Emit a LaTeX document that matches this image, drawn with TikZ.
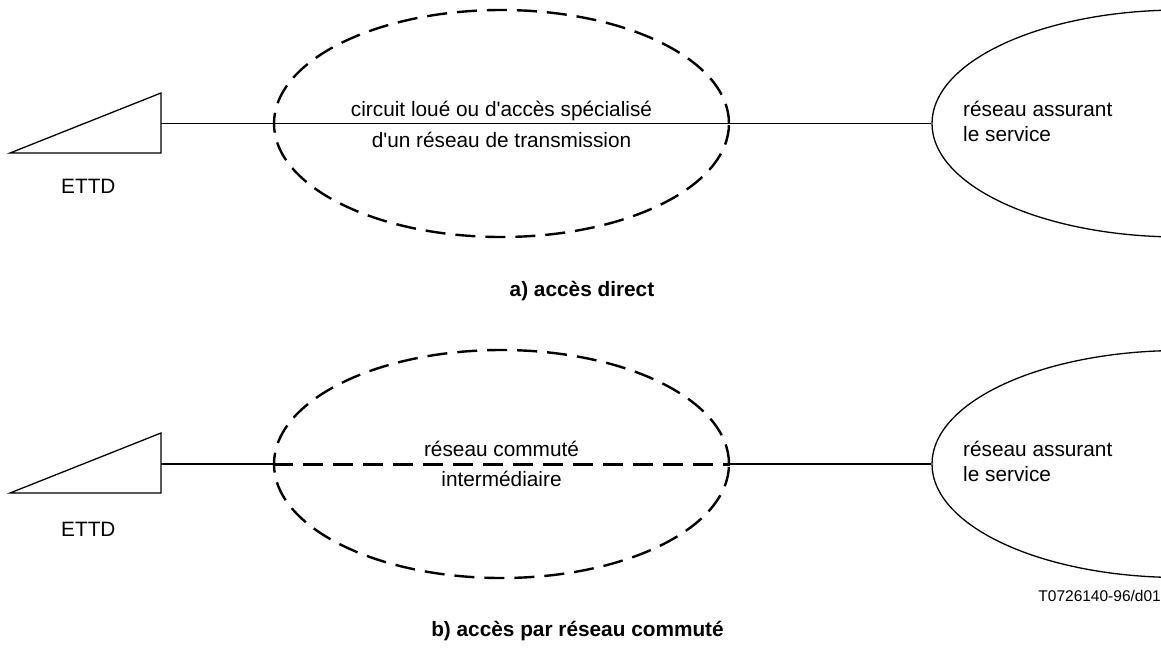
\documentclass[tikz,border=0pt]{standalone}
\usepackage{fontspec}
\setmainfont{Liberation Sans}
\usetikzlibrary{shapes.geometric}
\begin{document}
\begin{tikzpicture}[x=1pt,y=-1pt,
  txt/.style={inner sep=0pt,font=\fontsize{20.8}{25}\selectfont},
  small/.style={inner sep=0pt,font=\fontsize{15.5}{18}\selectfont},
  bold/.style={inner sep=0pt,font=\fontsize{20.8}{25}\selectfont\bfseries},
  conn/.style={line width=1.3pt},
  dashell/.style={ellipse,draw,inner sep=0pt,line width=2.4pt,dash pattern=on 20pt off 10pt},
  netell/.style={ellipse,draw,inner sep=0pt,line width=1.3pt,minimum width=496pt,minimum height=227pt},
  ettdshape/.style={line width=1.3pt,line join=miter}
]
\useasboundingbox (0,0) rectangle (1161,648);

% ---- a) top ----
\coordinate (a1) at (10,153);
\coordinate (a2) at (161,93);
\coordinate (a3) at (161,153);
\coordinate (ta) at (161,123.5);
\draw[ettdshape] (a1) -- (a2) -- (a3) -- cycle;
\node[dashell,minimum width=455pt,minimum height=227pt] (da) at (501.5,123.5) {};
\begin{scope}
\clip (0,0) rectangle (1161,648);
\node[netell] (ra) at (1180,123.5) {};
\node[netell] (rb) at (1180,464) {};
\end{scope}
\draw[conn] (ta) -- (ra.west);
\node[txt,anchor=base] (la1) at (501.5,116.5) {circuit loué ou d\textquotesingle accès spécialisé};
\node[txt,anchor=base] (la2) at (501.5,147) {d\textquotesingle un réseau de transmission};
\node[txt,anchor=base west] (na1) at (963,116) {réseau assurant};
\node[txt,anchor=base west] (na2) at (963,141.5) {le service};
\node[txt,anchor=base west] (ea) at (61,193.3) {ETTD};
\node[bold,anchor=base] (capa) at (582,296) {a) accès direct};

% ---- b) bottom ----
\coordinate (b1) at (10,493);
\coordinate (b2) at (161,433);
\coordinate (b3) at (161,493);
\coordinate (tb) at (161,464);
\draw[ettdshape] (b1) -- (b2) -- (b3) -- cycle;
\node[dashell,minimum width=455pt,minimum height=228pt] (db) at (501.5,464) {};
\draw[conn] (tb) -- (db.west);
\draw[line width=3pt,dash pattern=on 20pt off 10pt] (db.west) -- (db.east);
\draw[conn] (db.east) -- (rb.west);
\node[txt,anchor=base] (lb1) at (501.5,456.5) {réseau commuté};
\node[txt,anchor=base] (lb2) at (501.5,486) {intermédiaire};
\node[txt,anchor=base west] (nb1) at (963,456) {réseau assurant};
\node[txt,anchor=base west] (nb2) at (963,481) {le service};
\node[txt,anchor=base west] (eb) at (61,536) {ETTD};
\node[small,anchor=base east] (ref) at (1161,601.5) {T0726140-96/d01};
\node[bold,anchor=base] (capb) at (577.5,636) {b) accès par réseau commuté};
\end{tikzpicture}
\end{document}
